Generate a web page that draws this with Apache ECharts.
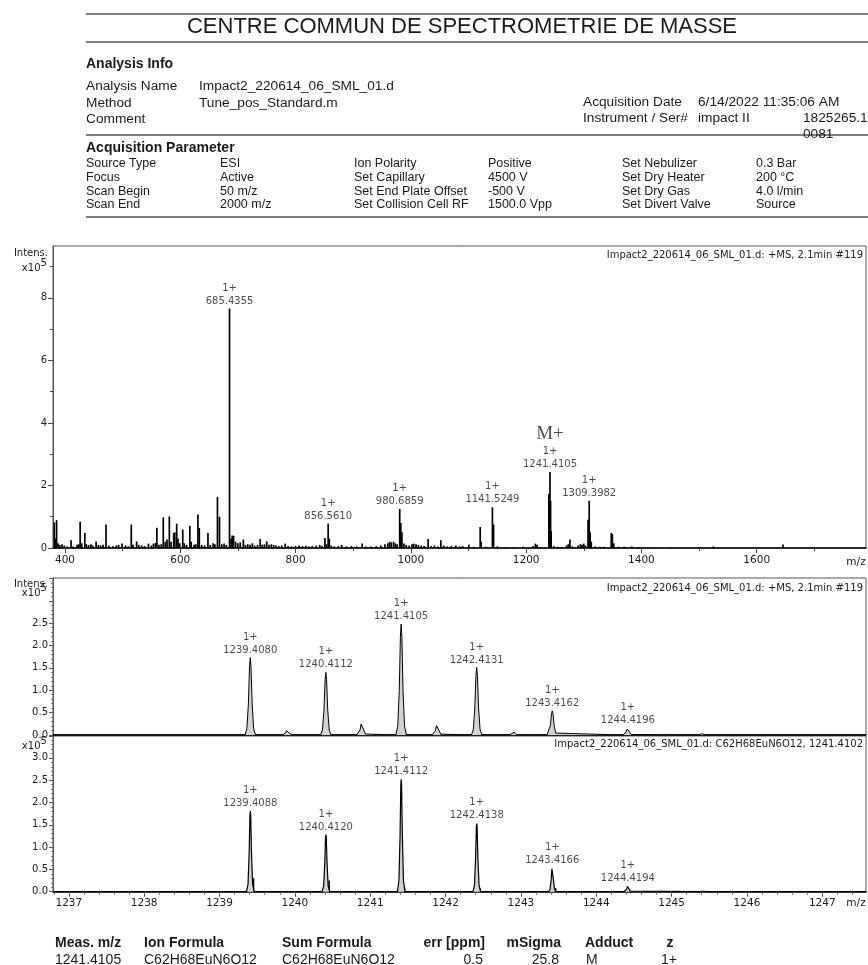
<!DOCTYPE html>
<html><head><meta charset="utf-8">
<script src="https://cdn.jsdelivr.net/npm/echarts@6/dist/echarts.min.js"></script>
<style>html,body{margin:0;padding:0;background:#fff}#c{width:868px;height:965px}</style>
</head><body><div id="c"></div>
<script>
// ---------- DATA ----------
// Full scan (+MS, 2.1 min #119): [m/z, intensity x1e5]
const overviewSticks = [
[381.5,0.82],[383,0.30],[385.4,0.89],[388,0.15],[391,0.10],[395,0.12],[399,0.08],[404,0.05],[410.5,0.25],[414,0.05],
[421,0.10],[424,0.12],[426.3,0.84],[429,0.15],[434.4,0.48],[437,0.12],[441,0.10],[445,0.12],[448,0.08],[454,0.21],
[458,0.10],[462,0.08],[466,0.10],[471.2,0.75],[476,0.08],[483,0.06],[489,0.08],[493,0.10],[499,0.14],[505,0.08],
[510,0.06],[515,0.75],[518,0.10],[524.3,0.21],[528,0.10],[533,0.08],[538,0.06],[544.8,0.14],[550,0.08],[553.5,0.14],
[557,0.16],[559.4,0.65],[563,0.10],[567,0.12],[570.5,0.98],[574,0.20],[577,0.27],[581,1.01],[584,0.20],[588.6,0.48],
[590.5,0.50],[593.8,0.78],[596,0.30],[599,0.15],[604.3,0.59],[607,0.15],[611,0.10],[616.6,0.71],[619,0.20],[624,0.10],
[627,0.12],[630.6,1.07],[633,0.64],[637,0.10],[642,0.08],[648,0.48],[652,0.10],[657,0.15],[660,0.12],[664.5,1.63],
[668,1.00],[672,0.12],[676,0.14],[680,0.10],[685.4355,7.66],[688,0.30],[690,0.40],[692.5,0.39],[696,0.20],[700,0.15],
[704,0.18],[709.4,0.27],[713,0.10],[717,0.12],[721,0.10],[725,0.15],[729,0.08],[734,0.10],[738.6,0.29],[742,0.10],
[746,0.12],[750,0.21],[754,0.10],[758,0.12],[762,0.10],[766,0.08],[771,0.06],[776,0.08],[782,0.14],[787,0.06],
[793,0.05],[800,0.06],[806,0.08],[812,0.06],[818,0.07],[823,0.05],[829,0.06],[836,0.08],[842,0.10],[846,0.06],
[851,0.32],[853.5,0.12],[856.5610,0.78],[858.5,0.30],[862,0.08],[867,0.05],[874,0.06],[880,0.10],[888,0.05],[897,0.06],
[906,0.05],[915.5,0.14],[922,0.05],[931,0.05],[940,0.06],[948,0.08],[955,0.12],[960,0.15],[963,0.20],[966,0.18],
[970,0.20],[973,0.15],[976,0.12],[980.6859,1.25],[982.6,0.80],[984.5,0.50],[988,0.14],[992,0.10],[997,0.08],[1002,0.12],
[1005,0.14],[1009,0.12],[1013,0.10],[1018,0.08],[1023,0.06],[1030,0.29],[1035,0.06],[1041,0.08],[1047,0.05],[1052,0.25],
[1057,0.08],[1063,0.05],[1070,0.06],[1078,0.08],[1085,0.05],[1090,0.06],[1100.6,0.11],[1109,0.04],[1120.3,0.67],[1122,0.20],
[1130,0.04],[1141.5249,1.30],[1143.5,0.75],[1150,0.05],[1165,0.03],[1180,0.03],[1195,0.04],[1212,0.06],[1216,0.14],[1219,0.10],
[1225,0.03],[1239.4,1.73],[1240.4,1.40],[1241.4105,2.43],[1242.4,1.51],[1243.4,0.54],[1248,0.06],[1255,0.04],[1262,0.03],[1270,0.08],
[1273,0.12],[1276,0.27],[1280,0.05],[1290,0.08],[1294,0.12],[1297,0.10],[1300,0.14],[1303,0.08],[1307.4,0.90],[1309.3982,1.51],
[1311,0.50],[1313,0.20],[1320,0.05],[1328,0.04],[1335,0.04],[1347.6,0.48],[1349.6,0.45],[1352,0.15],[1360,0.04],[1370,0.04],
[1383,0.05],[1395,0.03],[1420,0.02],[1450,0.02],[1500,0.02],[1525,0.05],[1560,0.02],[1645.5,0.11]
];
const overviewLabels = [[685.4355,7.66],[856.5610,0.78],[980.6859,1.25],[1141.5249,1.30],[1241.4105,2.43],[1309.3982,1.51]];
const molecularIon = 1241.4105;
const overviewXTicks = [400,600,800,1000,1200,1400,1600];
const overviewXMinor = [500,700,900,1100,1300,1500,1700];
const overviewYTicks = [0,2,4,6,8];
const overviewYMinor = [1,3,5,7,9];

// Measured isotope pattern (profile): [m/z, intensity x1e5]
const measuredPeaks = [[1239.4080,1.73],[1239.90,0.11],[1240.4112,1.40],[1240.89,0.28],[1241.4105,2.48],[1241.89,0.24],
  [1242.4131,1.51],[1242.90,0.07],[1243.4162,0.54],[1244.4196,0.15],[1245.40,0.03]];
const measuredLabels = [[1239.4080,1.73],[1240.4112,1.40],[1241.4105,2.48],[1242.4131,1.51],[1243.4162,0.54],[1244.4196,0.15]];
// Simulated pattern C62H68EuN6O12
const simulatedPeaks = [[1239.4088,1.81],[1240.4120,1.28],[1241.4112,2.52],[1242.4138,1.53],[1243.4166,0.54],[1244.4194,0.13],[1245.42,0.02]];
const simulatedSticks = [[1239.452,0.30],[1240.455,0.25],[1241.455,0.10],[1242.458,0.08],[1243.46,0.08]];
const simulatedLabels = [[1239.4088,1.81],[1240.4120,1.28],[1241.4112,2.52],[1242.4138,1.53],[1243.4166,0.54],[1244.4194,0.13]];
const zoomXTicks = [1237,1238,1239,1240,1241,1242,1243,1244,1245,1246,1247];
const midYLabels = [0,0.5,1.0,1.5,2.0,2.5];
const botYLabels = [0,0.5,1.0,1.5,2.0,2.5,3.0];

// ---------- RENDER ----------
const FONT = 'DejaVu Sans';
const HFONT = 'Liberation Sans';
const TXT = '#1a1a1a';
const ZMIN = 1236.79, ZMAX = 1247.58;
const zoomMinor = [];
for (let v = 1236.8; v <= 1247.5; v += 0.2) zoomMinor.push(+v.toFixed(1));

const midShape = [[-0.07,0],[-0.045,0.08],[-0.025,0.4],[-0.01,0.88],[0,1],[0.01,0.88],[0.025,0.4],[0.045,0.08],[0.07,0]];
const botShape = [[-0.05,0],[-0.03,0.1],[-0.015,0.5],[-0.005,0.95],[0,1],[0.005,0.95],[0.015,0.5],[0.03,0.1],[0.05,0]];
function profile(peaks, shape) {
  const pts = [[ZMIN,0]];
  peaks.slice().sort((a,b)=>a[0]-b[0]).forEach(([c,h]) => shape.forEach(([dx,f]) => pts.push([c+dx, h*f])));
  pts.push([ZMAX,0]);
  return pts;
}

const chart = echarts.init(document.getElementById('c'), null, {renderer:'canvas'});

const plain = v => String(v);
const axisLbl = (extra) => Object.assign({fontFamily:FONT, fontSize:10, color:TXT}, extra);
function labelSeries(xi, yi, data, extraItem) {
  return {
    type:'scatter', xAxisIndex:xi, yAxisIndex:yi, symbol:'circle', symbolSize:0.1, silent:true,
    itemStyle:{color:'rgba(0,0,0,0)'},
    label:{show:true, position:'top', distance:1, fontFamily:FONT, fontSize:10, lineHeight:13, color:TXT, align:'center',
      formatter: p => '1+\n' + p.value[0].toFixed(4)},
    data: data.map(d => extraItem ? extraItem(d) : {value:d}),
    z:5
  };
}

function txt(x, y, text, o) {
  return {type:'text', x, y, style:Object.assign({text, fill:TXT, font:'13.7px "'+HFONT+'"', textVerticalAlign:'middle'}, o||{})};
}
function hline(y, x1, x2) {
  return {type:'line', shape:{x1, y1:y, x2, y2:y}, style:{stroke:'#555', lineWidth:1.6}};
}

const graphics = [
  hline(14, 86, 868), hline(42, 86, 868), hline(135, 86, 868), hline(217, 86, 868),
  txt(462, 27, 'CENTRE COMMUN DE SPECTROMETRIE DE MASSE', {font:'22px "'+HFONT+'"', textAlign:'center'}),
  txt(86, 64, 'Analysis Info', {font:'bold 14px "'+HFONT+'"'}),
  txt(86, 86, 'Analysis Name'), txt(199, 86, 'Impact2_220614_06_SML_01.d'),
  txt(86, 103, 'Method'), txt(199, 103, 'Tune_pos_Standard.m'),
  txt(86, 119, 'Comment'),
  txt(583, 102, 'Acquisition Date'), txt(698, 102, '6/14/2022 11:35:06 AM'),
  txt(583, 118, 'Instrument / Ser#'), txt(698, 118, 'impact II'), txt(803, 118, '1825265.1'), txt(803, 134, '0081'),
  txt(86, 148, 'Acquisition Parameter', {font:'bold 14px "'+HFONT+'"'}),
];
const params = [
  ['Source Type','ESI','Ion Polarity','Positive','Set Nebulizer','0.3 Bar'],
  ['Focus','Active','Set Capillary','4500 V','Set Dry Heater','200 °C'],
  ['Scan Begin','50 m/z','Set End Plate Offset','-500 V','Set Dry Gas','4.0 l/min'],
  ['Scan End','2000 m/z','Set Collision Cell RF','1500.0 Vpp','Set Divert Valve','Source']
];
const pcols = [86,220,354,488,622,756], prows = [164,178,192,204.5];
params.forEach((row,ri) => row.forEach((t,ci) => graphics.push(txt(pcols[ci], prows[ri], t, {font:'12.5px "'+HFONT+'"'}))));

// chart annotations
const cf = (s) => s+'px "'+FONT+'"';
graphics.push(
  txt(48, 253, 'Intens.', {font:cf(10), textAlign:'right'}),
  txt(40.5, 268, 'x10', {font:cf(10), textAlign:'right'}), txt(40.5, 263, '5', {font:cf(10)}),
  txt(863, 255, 'Impact2_220614_06_SML_01.d: +MS, 2.1min #119', {font:cf(10), textAlign:'right'}),
  txt(856, 562, 'm/z', {font:cf(10.5), textAlign:'center'}),
  txt(48, 584, 'Intens.', {font:cf(10), textAlign:'right'}),
  txt(40.5, 593, 'x10', {font:cf(10), textAlign:'right'}), txt(40.5, 588, '5', {font:cf(10)}),
  txt(863, 588, 'Impact2_220614_06_SML_01.d: +MS, 2.1min #119', {font:cf(10), textAlign:'right'}),
  txt(40.5, 746, 'x10', {font:cf(10), textAlign:'right'}), txt(40.5, 741, '5', {font:cf(10)}),
  txt(863, 744, 'Impact2_220614_06_SML_01.d: C62H68EuN6O12, 1241.4102', {font:cf(10), textAlign:'right'}),
  txt(856, 903, 'm/z', {font:cf(10.5), textAlign:'center'})
);
// results table
const tb = (x,y,t,o) => txt(x,y,t,Object.assign({font:'bold 14px "'+HFONT+'"'},o||{}));
const tn = (x,y,t,o) => txt(x,y,t,Object.assign({font:'14px "'+HFONT+'"'},o||{}));
graphics.push(
  tb(55,943,'Meas. m/z'), tb(144,943,'Ion Formula'), tb(282,943,'Sum Formula'),
  tb(485,943,'err [ppm]',{textAlign:'right'}), tb(561,943,'mSigma',{textAlign:'right'}), tb(585,943,'Adduct'), tb(670,943,'z',{textAlign:'center'}),
  tn(55,960,'1241.4105'), tn(144,960,'C62H68EuN6O12'), tn(282,960,'C62H68EuN6O12'),
  tn(483,960,'0.5',{textAlign:'right'}), tn(559,960,'25.8',{textAlign:'right'}), tn(586,960,'M'), tn(669,960,'1+',{textAlign:'center'})
);

const gridBase = {left:53, width:813, show:true, borderColor:'#555', borderWidth:1, backgroundColor:'#fff'};
const hideAll = {axisLine:{show:false}, axisLabel:{show:false}, splitLine:{show:false}, axisTick:{show:false}};

const option = {
  animation:false,
  backgroundColor:'#fff',
  grid:[
    Object.assign({top:246, height:302}, gridBase),
    Object.assign({top:578, height:157}, gridBase),
    Object.assign({top:736, height:155.7}, gridBase)
  ],
  xAxis:[
    {type:'value', gridIndex:0, min:379.2, max:1789.6, position:'bottom',
     axisLine:{show:true, onZero:false, lineStyle:{color:'#000', width:1.5}},
     axisTick:{show:true, length:5, customValues:overviewXTicks, lineStyle:{color:'#444'}},
     axisLabel:axisLbl({customValues:overviewXTicks, margin:7, fontSize:10.5, formatter:plain}), splitLine:{show:false}},
    Object.assign({type:'value', gridIndex:0, min:379.2, max:1789.6, position:'bottom'}, hideAll,
     {axisTick:{show:true, length:3, customValues:overviewXMinor, lineStyle:{color:'#444'}}}),
    Object.assign({type:'value', gridIndex:1, min:ZMIN, max:ZMAX, position:'bottom'}, hideAll,
     {axisLine:{show:true, onZero:false, lineStyle:{color:'#000', width:1.5}}}),
    {type:'value', gridIndex:2, min:ZMIN, max:ZMAX, position:'bottom',
     axisLine:{show:true, onZero:false, lineStyle:{color:'#000', width:1.5}},
     axisTick:{show:true, length:5, customValues:zoomXTicks, lineStyle:{color:'#444'}},
     axisLabel:axisLbl({customValues:zoomXTicks, margin:6, fontSize:10.5, formatter:plain}), splitLine:{show:false}},
    Object.assign({type:'value', gridIndex:2, min:ZMIN, max:ZMAX, position:'bottom'}, hideAll,
     {axisTick:{show:true, length:3, customValues:zoomMinor, lineStyle:{color:'#666'}}})
  ],
  yAxis:[
    {type:'value', gridIndex:0, min:0, max:9.66, position:'left',
     axisLine:{show:true, lineStyle:{color:'#555'}},
     axisTick:{show:true, length:5, customValues:overviewYTicks, lineStyle:{color:'#444'}},
     axisLabel:axisLbl({customValues:overviewYTicks, margin:6, formatter:plain}), splitLine:{show:false}},
    Object.assign({type:'value', gridIndex:0, min:0, max:9.66, position:'left'}, hideAll,
     {axisTick:{show:true, length:3, customValues:overviewYMinor, lineStyle:{color:'#444'}}}),
    {type:'value', gridIndex:1, min:0, max:3.51, interval:0.5, position:'left',
     axisLine:{show:true, lineStyle:{color:'#555'}},
     axisTick:{show:true, length:4, lineStyle:{color:'#555'}},
     minorTick:{show:true, splitNumber:5, length:2, lineStyle:{color:'#777'}},
     axisLabel:axisLbl({customValues:midYLabels, margin:5, formatter:v=>v.toFixed(1)}), splitLine:{show:false}, minorSplitLine:{show:false}},
    {type:'value', gridIndex:2, min:0, max:3.49, interval:0.5, position:'left',
     axisLine:{show:true, lineStyle:{color:'#555'}},
     axisTick:{show:true, length:4, lineStyle:{color:'#555'}},
     minorTick:{show:true, splitNumber:5, length:2, lineStyle:{color:'#777'}},
     axisLabel:axisLbl({customValues:botYLabels, margin:5, formatter:v=>v.toFixed(1)}), splitLine:{show:false}, minorSplitLine:{show:false}}
  ],
  series:[
    {type:'bar', xAxisIndex:0, yAxisIndex:0, barWidth:1.7, itemStyle:{color:'#000'}, data:overviewSticks, silent:true},
    labelSeries(0, 0, overviewLabels, d => d[0] === molecularIon ?
      {value:d, label:{formatter:'{m|M+}\n{n|1+}\n{n|' + d[0].toFixed(4) + '}',
        rich:{m:{fontFamily:'Liberation Serif', fontSize:19, lineHeight:21, color:TXT}, n:{fontFamily:FONT, fontSize:10, lineHeight:13, color:TXT}}}}
      : {value:d}),
    {type:'line', xAxisIndex:2, yAxisIndex:2, symbol:'none', silent:true, data:profile(measuredPeaks, midShape),
     lineStyle:{color:'#000', width:1}, areaStyle:{color:'#d2d2d2', opacity:1}},
    labelSeries(2, 2, measuredLabels),
    {type:'line', xAxisIndex:3, yAxisIndex:3, symbol:'none', silent:true, data:profile(simulatedPeaks, botShape),
     lineStyle:{color:'#000', width:1.2}, areaStyle:{color:'#d2d2d2', opacity:1}},
    {type:'bar', xAxisIndex:3, yAxisIndex:3, barWidth:1.5, itemStyle:{color:'#000'}, data:simulatedSticks, silent:true},
    labelSeries(3, 3, simulatedLabels)
  ],
  graphic: graphics
};
chart.setOption(option);
</script></body></html>
